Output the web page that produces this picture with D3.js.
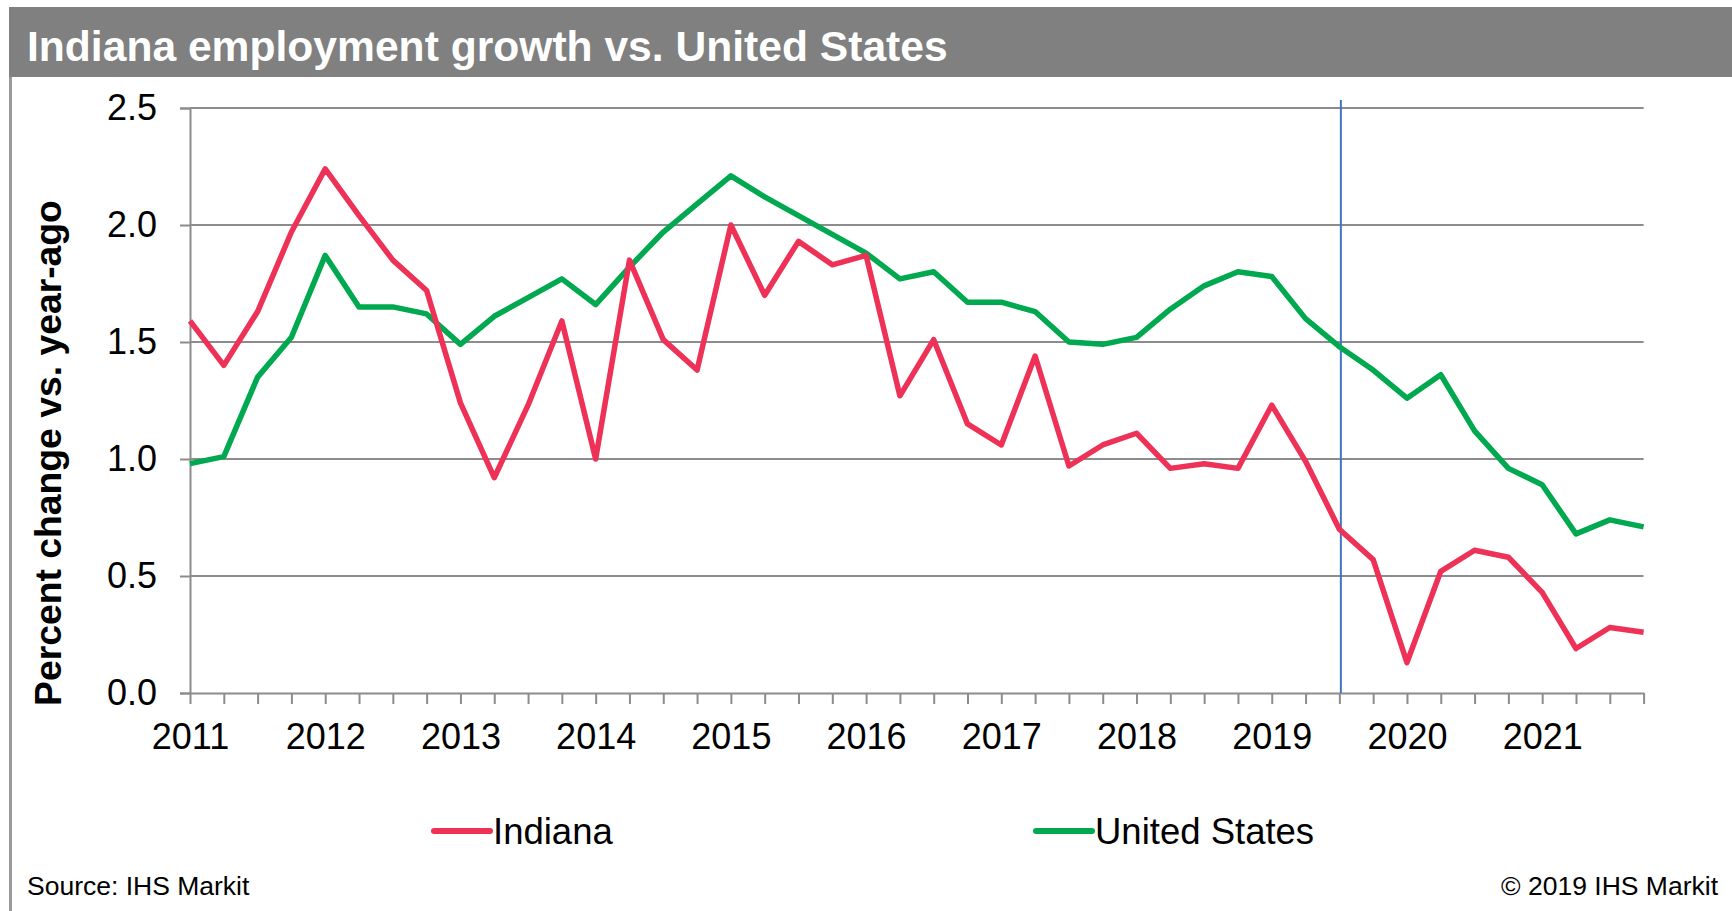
<!DOCTYPE html>
<html>
<head>
<meta charset="utf-8">
<script src="https://cdn.jsdelivr.net/npm/d3@7"></script>
<style>
  body { margin: 0; background: #fff; }
  text { font-family: "Liberation Sans", Arial, sans-serif; }
</style>
</head>
<body>
<div id="chart"></div>
<script>
// quarterly data, 2011Q1 .. 2021Q4
const years = ["2011", "2012", "2013", "2014", "2015", "2016", "2017", "2018", "2019", "2020", "2021"];
const quarters = years.flatMap(y => ["Q1", "Q2", "Q3", "Q4"].map(q => y + q));

const indiana = [1.59, 1.40, 1.63, 1.97, 2.24, 2.04, 1.85, 1.72,
                 1.24, 0.92, 1.23, 1.59, 1.00, 1.85, 1.51, 1.38,
                 2.00, 1.70, 1.93, 1.83, 1.87, 1.27, 1.51, 1.15,
                 1.06, 1.44, 0.97, 1.06, 1.11, 0.96, 0.98, 0.96,
                 1.23, 0.99, 0.70, 0.57, 0.13, 0.52, 0.61, 0.58,
                 0.43, 0.19, 0.28, 0.26];
const unitedStates = [0.98, 1.01, 1.35, 1.52, 1.87, 1.65, 1.65, 1.62,
                      1.49, 1.61, 1.69, 1.77, 1.66, 1.82, 1.97, 2.09,
                      2.21, 2.12, 2.04, 1.96, 1.88, 1.77, 1.80, 1.67,
                      1.67, 1.63, 1.50, 1.49, 1.52, 1.64, 1.74, 1.80,
                      1.78, 1.60, 1.48, 1.38, 1.26, 1.36, 1.12, 0.96,
                      0.89, 0.68, 0.74, 0.71];
const yTicks = [0, 0.5, 1.0, 1.5, 2.0, 2.5];
const forecastStart = "2019Q3";

const W = 1732, H = 911;
const red = "#EE3157", green = "#00A950";

const svg = d3.select("#chart").append("svg")
    .attr("width", W)
    .attr("height", H);

svg.append("rect").attr("width", W).attr("height", H).attr("fill", "#fff");

// title bar + frame
svg.append("rect")
    .attr("x", 9).attr("y", 7)
    .attr("width", W - 9).attr("height", 70)
    .attr("fill", "#7F807F");
svg.append("line")
    .attr("x1", 10.5).attr("x2", 10.5)
    .attr("y1", 77).attr("y2", H)
    .attr("stroke", "#9A9A9A").attr("stroke-width", 3);
svg.append("text")
    .attr("x", 27).attr("y", 61)
    .attr("fill", "#fff")
    .style("font-size", "42.6px").style("font-weight", "bold")
    .text("Indiana employment growth vs. United States");

// scales
const x = d3.scalePoint().domain(quarters).range([190, 1643.6]);
const y = d3.scaleLinear().domain([0, 2.5]).range([693, 108]);

// gridlines
svg.append("g").selectAll("line")
    .data(yTicks.filter(d => d > 0))
    .enter().append("line")
      .attr("x1", 190).attr("x2", 1643.6)
      .attr("y1", d => y(d)).attr("y2", d => y(d))
      .attr("stroke", "#8C8C8C").attr("stroke-width", 2);

// y axis
const yAxis = svg.append("g")
    .attr("transform", "translate(190,0)")
    .call(d3.axisLeft(y).tickValues(yTicks).tickFormat(d3.format(".1f"))
      .tickSize(10).tickPadding(23));
yAxis.select(".domain").attr("stroke", "#8C8C8C").attr("stroke-width", 2);
yAxis.selectAll(".tick line").attr("stroke", "#8C8C8C").attr("stroke-width", 2);
yAxis.selectAll("text").style("font-size", "36px").attr("fill", "#000")
    .style("font-family", "'Liberation Sans', Arial, sans-serif");

// x axis
const xAxis = svg.append("g")
    .attr("transform", "translate(0,693)")
    .call(d3.axisBottom(x)
      .tickFormat(d => d.endsWith("Q1") ? d.slice(0, 4) : "")
      .tickSizeInner(11).tickSizeOuter(0).tickPadding(19));
xAxis.select(".domain").attr("stroke", "#8C8C8C").attr("stroke-width", 2);
xAxis.selectAll(".tick line").attr("stroke", "#8C8C8C").attr("stroke-width", 2);
xAxis.selectAll("text").style("font-size", "36px").attr("fill", "#000")
    .style("font-family", "'Liberation Sans', Arial, sans-serif");

// y axis title
svg.append("text")
    .attr("transform", "translate(61,453) rotate(-90)")
    .attr("text-anchor", "middle")
    .style("font-size", "37.3px").style("font-weight", "bold")
    .text("Percent change vs. year-ago");

// forecast marker
svg.append("line")
    .attr("x1", x(forecastStart) + 1.5).attr("x2", x(forecastStart) + 1.5)
    .attr("y1", 100).attr("y2", 693)
    .attr("stroke", "#4472C4").attr("stroke-width", 2);

// lines
const line = d3.line()
    .x((d, i) => x(quarters[i]))
    .y(d => y(d));

svg.append("path")
    .datum(unitedStates)
    .attr("fill", "none")
    .attr("stroke", green)
    .attr("stroke-width", 5.5)
    .attr("stroke-linejoin", "round")
    .attr("d", line);

svg.append("path")
    .datum(indiana)
    .attr("fill", "none")
    .attr("stroke", red)
    .attr("stroke-width", 5.5)
    .attr("stroke-linejoin", "round")
    .attr("d", line);

// legend
const legend = [
  {name: "Indiana", color: red, x: 434},
  {name: "United States", color: green, x: 1036}
];
const lg = svg.append("g").selectAll("g")
    .data(legend)
    .enter().append("g")
      .attr("transform", d => "translate(" + d.x + ",831)");
lg.append("line")
    .attr("x1", 0).attr("x2", 56)
    .attr("stroke", d => d.color)
    .attr("stroke-width", 6)
    .attr("stroke-linecap", "round");
lg.append("text")
    .attr("x", 59).attr("y", 13)
    .style("font-size", "36.5px")
    .text(d => d.name);

// footer
svg.append("text")
    .attr("x", 27).attr("y", 895)
    .style("font-size", "26.5px")
    .text("Source: IHS Markit");
svg.append("text")
    .attr("x", 1718).attr("y", 895)
    .attr("text-anchor", "end")
    .style("font-size", "26.5px")
    .text("\u00A9 2019 IHS Markit");
</script>
</body>
</html>
